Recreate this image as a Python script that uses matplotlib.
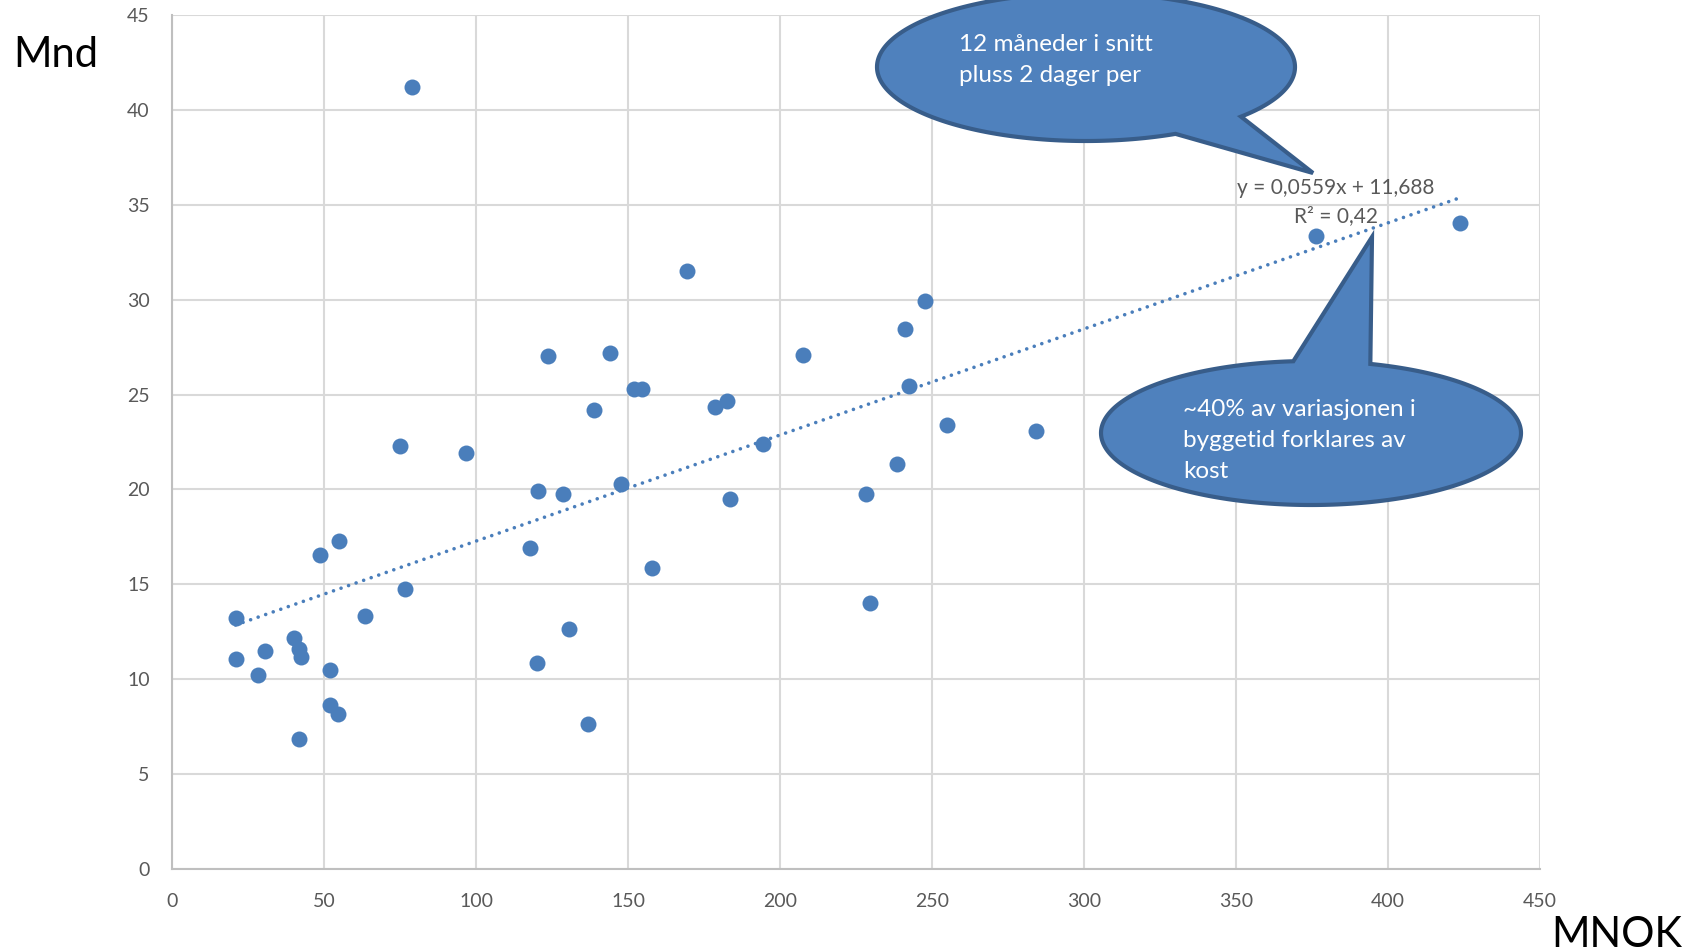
import numpy as np
import matplotlib
matplotlib.use('Agg')
import matplotlib.pyplot as plt
from matplotlib.patches import Polygon

plt.rcParams['font.family'] = ['Lato', 'DejaVu Sans']

# Kostnad (MNOK) og byggetid (mnd) per prosjekt
mnok = [20.9, 20.9, 30.6, 28.3, 40.1, 41.9, 42.3, 41.9, 48.6, 54.9,
        51.9, 52.0, 54.7, 63.4, 75.1, 76.7, 78.8, 96.7, 117.8, 120.5,
        120.2, 123.7, 128.6, 130.7, 136.9, 138.9, 144.2, 147.6, 152.1, 154.6,
        157.9, 169.3, 178.6, 182.7, 183.7, 194.4, 207.6, 228.3, 229.6, 238.6,
        241.0, 242.4, 247.7, 254.8, 284.2, 376.3, 423.6]
mnd = [13.24, 11.05, 11.5, 10.24, 12.17, 11.6, 11.17, 6.87, 16.56, 17.28,
       10.48, 8.62, 8.17, 13.35, 22.3, 14.77, 41.2, 21.93, 16.93, 19.92,
       10.84, 27.01, 19.77, 12.66, 7.64, 24.2, 27.17, 20.27, 25.31, 25.31,
       15.87, 31.49, 24.36, 24.66, 19.51, 22.38, 27.07, 19.74, 14.03, 21.34,
       28.47, 25.45, 29.91, 23.38, 23.09, 33.37, 34.06]

# lineær trendlinje (fra Excel)
slope = 0.0559
intercept = 11.688
r2 = 0.42

x_ticks = list(range(0, 451, 50))
y_ticks = list(range(0, 46, 5))

blue = '#4A7EBB'
grid_c = '#D9D9D9'
label_c = '#595959'

W, H = 1702, 952
fig = plt.figure(figsize=(W / 100, H / 100), dpi=100)
ax = fig.add_axes([172 / W, 1 - 869 / H, (1540 - 172) / W, (869 - 15) / H])

ax.set_xlim(0, 450)
ax.set_ylim(0, 45)
ax.set_xticks(x_ticks)
ax.set_yticks(y_ticks)
ax.grid(True, color=grid_c, lw=1.5)
ax.set_axisbelow(True)
for side in ['top', 'right']:
    ax.spines[side].set_visible(False)
for side in ['left', 'bottom']:
    ax.spines[side].set_color('#BFBFBF')
    ax.spines[side].set_linewidth(1.5)
ax.tick_params(length=0, labelsize=14, labelcolor=label_c)
ax.tick_params(axis='x', pad=17)
ax.tick_params(axis='y', pad=16)

# trendlinje
xt = np.array([min(mnok), max(mnok)])
ax.plot(xt, slope * xt + intercept, color=blue, lw=2.6,
        linestyle=(0, (0.01, 2.2)), dash_capstyle='round', zorder=2)

ax.plot(mnok, mnd, 'o', color=blue, ms=11.5, mec='none', zorder=3)

# tekster utenfor plottet
fig.text(13 / W, 1 - 67 / H, 'Mnd', fontsize=30, color='black', va='baseline')
fig.text(1682 / W, 1 - 947 / H, 'MNOK', fontsize=30, color='black',
         va='baseline', ha='right')

# va='baseline' følger siste linje
fig.text(1336 / W, 1 - 222 / H, f'y = {slope:.4f}x + {intercept:.3f}'.replace('.', ',')
         + f'\nR² = {r2:.2f}'.replace('.', ','),
         fontsize=15, color=label_c, ha='center', va='baseline',
         multialignment='center', linespacing=1.5)


def bubble(cx, cy, a, b, base1, base2, tip):
    t1 = np.arctan2((base1[1] - cy) / b, (base1[0] - cx) / a)
    t2 = np.arctan2((base2[1] - cy) / b, (base2[0] - cx) / a)
    t = np.linspace(max(t1, t2), min(t1, t2) + 2 * np.pi, 300)
    px = np.concatenate([[tip[0]], cx + a * np.cos(t)])
    py = np.concatenate([[tip[1]], cy + b * np.sin(t)])
    pts = np.column_stack([px / W, 1 - py / H])
    poly = Polygon(pts, closed=True, transform=fig.transFigure,
                   facecolor='#4F81BD', edgecolor='#385D8A', lw=3,
                   joinstyle='miter', zorder=4)
    fig.add_artist(poly)


bubble(1086, 67, 209, 74, (1239, 116), (1177, 135), (1313, 173))
bubble(1311, 433, 210, 72, (1293, 360), (1372, 362), (1372, 237))

fig.text(959 / W, 1 - 82 / H, '12 måneder i snitt\npluss 2 dager per',
         fontsize=17.5, color='white', va='baseline', linespacing=1.6, zorder=5)
fig.text(1183 / W, 1 - 478 / H,
         '~40% av variasjonen i\nbyggetid forklares av\nkost',
         fontsize=17.5, color='white', va='baseline', linespacing=1.6, zorder=5)

fig.savefig('out.png', dpi=100)
